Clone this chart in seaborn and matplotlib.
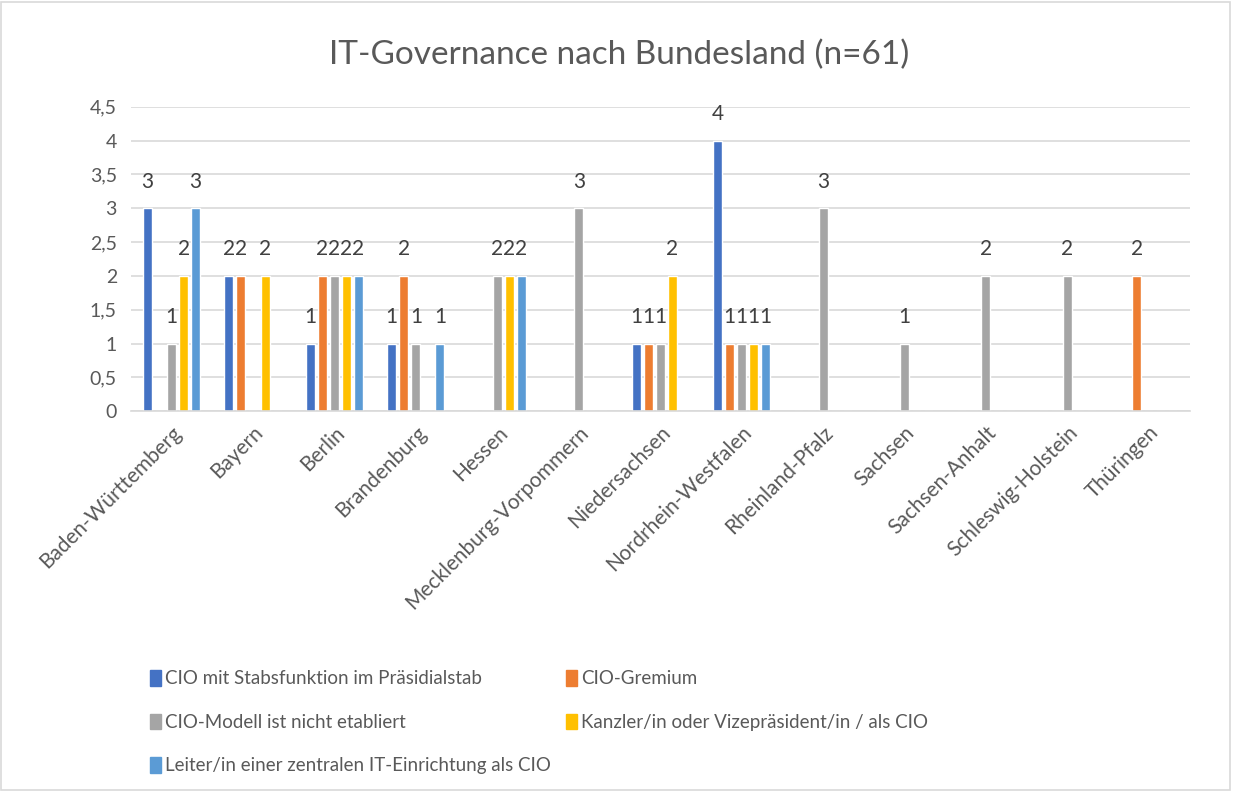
import pandas as pd
import numpy as np
import matplotlib
matplotlib.use("Agg")
import matplotlib.pyplot as plt
import seaborn as sns

# -----------------------------
# Data
# -----------------------------
laender = ["Baden-Württemberg", "Bayern", "Berlin", "Brandenburg", "Hessen",
           "Mecklenburg-Vorpommern", "Niedersachsen", "Nordrhein-Westfalen",
           "Rheinland-Pfalz", "Sachsen", "Sachsen-Anhalt", "Schleswig-Holstein",
           "Thüringen"]

cio_stab = [3, 2, 1, 1, 0, 0, 1, 4, 0, 0, 0, 0, 0]
cio_gremium = [0, 2, 2, 2, 0, 0, 1, 1, 0, 0, 0, 0, 2]
nicht_etabliert = [1, 0, 2, 1, 2, 3, 1, 1, 3, 1, 2, 2, 0]
kanzler = [2, 2, 2, 0, 2, 0, 2, 1, 0, 0, 0, 0, 0]
leiter_it = [3, 0, 2, 1, 2, 0, 0, 1, 0, 0, 0, 0, 0]

serien = ["CIO mit Stabsfunktion im Präsidialstab", "CIO-Gremium",
          "CIO-Modell ist nicht etabliert",
          "Kanzler/in oder Vizepräsident/in / als CIO",
          "Leiter/in einer zentralen IT-Einrichtung als CIO"]
farben = ["#4472C4", "#ED7D31", "#A5A5A5", "#FFC000", "#5B9BD5"]
y_ticks = [0, 0.5, 1, 1.5, 2, 2.5, 3, 3.5, 4, 4.5]

df = pd.DataFrame({"Bundesland": laender,
                   serien[0]: cio_stab,
                   serien[1]: cio_gremium,
                   serien[2]: nicht_etabliert,
                   serien[3]: kanzler,
                   serien[4]: leiter_it})
long = df.melt(id_vars="Bundesland", var_name="Modell", value_name="Anzahl")

# -----------------------------
# Plot
# -----------------------------
sns.set_style("white")
plt.rcParams["font.family"] = ["Lato", "DejaVu Sans"]
textfarbe = "#595959"

fig = plt.figure(figsize=(12.34, 7.91), dpi=100)
ax = fig.add_axes([0.106, 0.480, 0.858, 0.385])

sns.barplot(data=long, x="Bundesland", y="Anzahl", hue="Modell",
            hue_order=serien, palette=farben, saturation=1,
            width=0.74, gap=0.25, order=laender, ax=ax, legend=False)

# Datenbeschriftung nur fuer Werte > 0
for cont in ax.containers:
    labels = [f"{v:g}" if v > 0 else "" for v in cont.datavalues]
    ax.bar_label(cont, labels=labels, padding=12, fontsize=15, color="#404040")

ax.set_ylim(0, 4.5)
ax.set_yticks(y_ticks)
ax.set_yticklabels([f"{t:g}".replace(".", ",") for t in y_ticks])
ax.yaxis.grid(True, color="#D9D9D9", linewidth=1.2)
ax.set_axisbelow(True)
ax.set_xlabel("")
ax.set_ylabel("")
for s in ["top", "right", "left"]:
    ax.spines[s].set_visible(False)
ax.spines["bottom"].set_color("#D9D9D9")
ax.spines["bottom"].set_linewidth(1.2)
ax.tick_params(axis="y", length=0, labelsize=14, colors=textfarbe, pad=10)
ax.tick_params(axis="x", length=0, labelsize=15, colors=textfarbe, pad=8)
plt.setp(ax.get_xticklabels(), rotation=45, ha="right", rotation_mode="anchor")

fig.suptitle("IT-Governance nach Bundesland (n=61)", x=0.502, y=0.95,
             fontsize=24, color=textfarbe)

handles = [plt.Rectangle((0, 0), 1, 1, color=c) for c in farben]
order = [0, 2, 4, 1, 3]
fig.legend([handles[i] for i in order], [serien[i] for i in order],
           loc="upper left", bbox_to_anchor=(0.108, 0.174), ncol=2,
           frameon=False, fontsize=13.5, labelcolor=textfarbe,
           handlelength=0.6, handleheight=0.9, handletextpad=0.2,
           columnspacing=0.8, labelspacing=1.4)

fig.patches.append(plt.Rectangle((0.001, 0.001), 0.996, 0.997, fill=False,
                                 edgecolor="#D9D9D9", linewidth=1.2,
                                 transform=fig.transFigure, figure=fig))

fig.savefig("out.png", dpi=100)
